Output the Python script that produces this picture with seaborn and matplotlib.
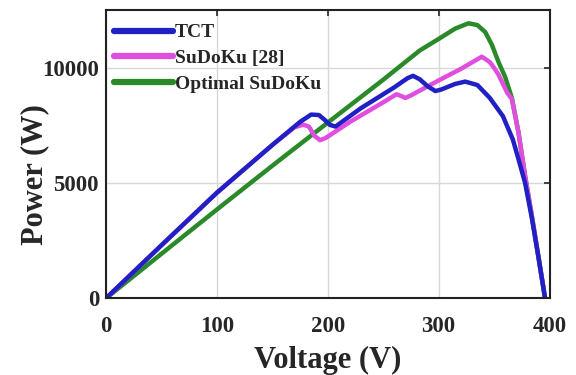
import numpy as np
import pandas as pd
import matplotlib
matplotlib.use("Agg")
import matplotlib.pyplot as plt
import seaborn as sns

# P-V curves
v_tct = [0, 50, 100, 150, 175, 185, 192, 197, 202, 207, 230, 260, 272, 277, 283, 290, 297,
         302, 315, 324, 335, 346, 358, 367, 373, 378, 384, 390, 396]
p_tct = [0, 2300, 4580, 6650, 7650, 7970, 7950, 7750, 7520, 7450, 8250, 9150, 9550, 9650,
         9500, 9200, 8990, 9050, 9300, 9400, 9250, 8700, 7900, 6880, 5870, 5000, 3500, 1800, 0]

v_sdk = [0, 50, 100, 150, 170, 178, 183, 188, 193, 198, 220, 250, 262, 266, 270, 275, 300,
         320, 339, 346, 350, 354, 357, 362, 366, 372, 378, 384, 390, 396]
p_sdk = [0, 2300, 4580, 6650, 7420, 7530, 7450, 7050, 6860, 6950, 7650, 8500, 8850, 8780,
         8690, 8800, 9450, 9950, 10480, 10250, 10000, 9700, 9400, 8900, 8650, 7200, 5300,
         3600, 1800, 0]

v_opt = [0, 50, 100, 150, 200, 250, 283, 300, 315, 327, 335, 342, 348, 354, 360, 366, 372,
         378, 384, 390, 396]
p_opt = [0, 1930, 3850, 5750, 7620, 9480, 10750, 11250, 11700, 11930, 11850, 11550, 11000,
         10250, 9600, 8700, 7200, 5300, 3600, 1800, 0]

labels = ["TCT", "SuDoKu [28]", "Optimal SuDoKu"]
colors = ["#2020c4", "#e04ee0", "#2a8a2a"]

sns.set_style("white")
plt.rcParams["font.family"] = ["Liberation Serif", "DejaVu Serif"]
plt.rcParams["font.weight"] = "bold"

fig = plt.figure(figsize=(5.76, 3.75), dpi=100)
ax = fig.add_axes([0.184, 0.2045, 0.77, 0.7685])

# draw green first, blue on top
sns.lineplot(x=v_opt, y=p_opt, ax=ax, color=colors[2], lw=3.2, sort=False, estimator=None, label=labels[2])
sns.lineplot(x=v_sdk, y=p_sdk, ax=ax, color=colors[1], lw=3.2, sort=False, estimator=None, label=labels[1])
sns.lineplot(x=v_tct, y=p_tct, ax=ax, color=colors[0], lw=3.2, sort=False, estimator=None, label=labels[0])

ax.set_xlim(0, 400)
ax.set_ylim(0, 12500)
ax.set_xticks([0, 100, 200, 300, 400])
ax.set_yticks([0, 5000, 10000])
ax.grid(True, color="#d8d8d8", lw=1)
ax.tick_params(direction="in", top=True, right=True, length=4, width=1.2,
               labelsize=16.5)
ax.tick_params(axis="x", pad=12.5)
ax.tick_params(axis="y", pad=5)
for lab in ax.get_xticklabels() + ax.get_yticklabels():
    lab.set_fontweight("bold")
for s in ax.spines.values():
    s.set_linewidth(1.5)
    s.set_color("#222222")

ax.set_xlabel("Voltage (V)", fontsize=22, fontweight="bold", labelpad=7)
ax.set_ylabel("Power (W)", fontsize=22, fontweight="bold")
ax.yaxis.set_label_coords(-0.128, 0.43)

h, l = ax.get_legend_handles_labels()
order = [2, 1, 0]
leg = ax.legend([h[i] for i in order], [l[i] for i in order], loc="upper left",
                frameon=False, fontsize=14, handlelength=3.0, handletextpad=0.1,
                labelspacing=0.42, borderaxespad=0.3, bbox_to_anchor=(-0.012, 1.0))
for line in leg.get_lines():
    line.set_linewidth(4.5)
for t in leg.get_texts():
    t.set_fontweight("bold")

fig.savefig("out.png", dpi=100)
